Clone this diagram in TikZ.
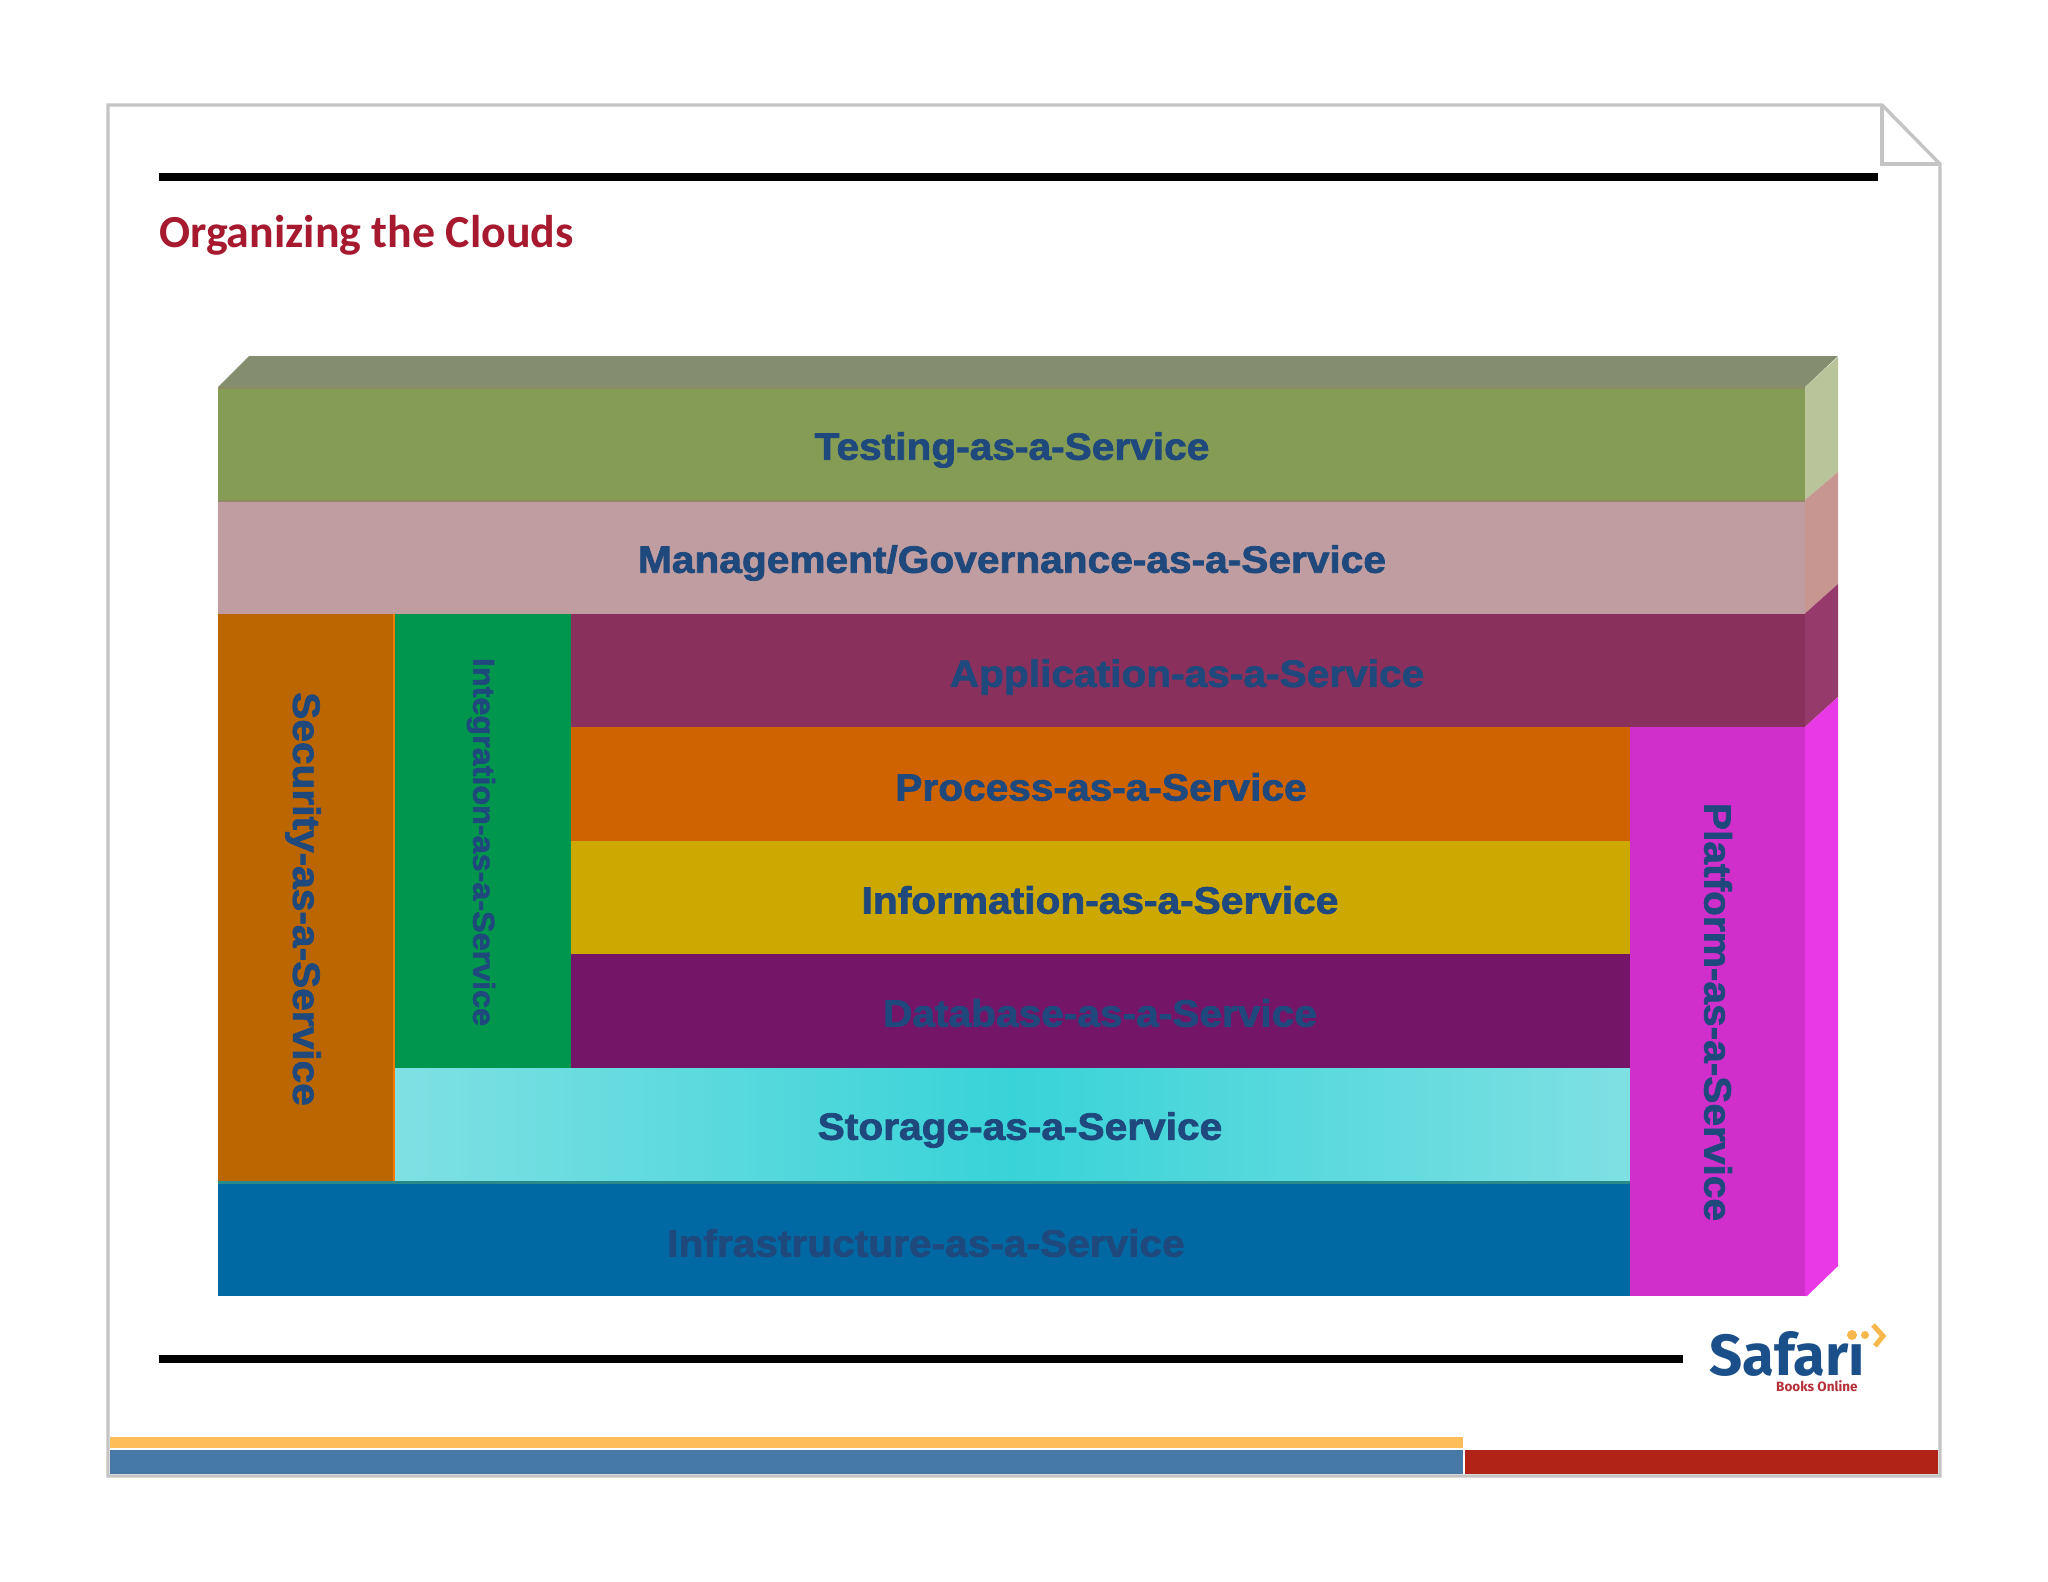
\documentclass[tikz,border=0pt]{standalone}
\usepackage{fontspec}
\setmainfont{Liberation Sans}
\newfontfamily\titlefont{Carlito}
\newfontfamily\logofont{Fira Sans}
\newfontfamily\labfont[BoldFeatures={FakeBold=2,FakeStretch=1.07}]{Liberation Sans}
\definecolor{labc}{HTML}{1F497D}
\definecolor{framec}{HTML}{C4C4C4}
\definecolor{titlec}{HTML}{A6192E}
\definecolor{stc}{HTML}{7FE0E3}
\definecolor{stm}{HTML}{38D3D8}
\definecolor{ctop}{HTML}{858D6F}
\definecolor{ctest}{HTML}{859C55}
\definecolor{ctests}{HTML}{B9C49B}
\definecolor{cmgmt}{HTML}{BF9DA0}
\definecolor{cmgmts}{HTML}{C89691}
\definecolor{capp}{HTML}{89305D}
\definecolor{capps}{HTML}{963A6C}
\definecolor{cproc}{HTML}{CE6300}
\definecolor{cinfo}{HTML}{CDA800}
\definecolor{cdb}{HTML}{751568}
\definecolor{cinfra}{HTML}{0069A3}
\definecolor{csec}{HTML}{BB6600}
\definecolor{cint}{HTML}{00964E}
\definecolor{cplat}{HTML}{D12FCB}
\definecolor{cplats}{HTML}{E938E6}
\definecolor{cteal}{HTML}{2A8A8A}
\definecolor{cyel}{HTML}{FDBD58}
\definecolor{cblue}{HTML}{4679A5}
\definecolor{cred}{HTML}{B22317}
\definecolor{logob}{HTML}{1B4F8A}
\definecolor{logor}{HTML}{B5303A}
\definecolor{logoy}{HTML}{F7B84B}
\definecolor{cedge}{HTML}{8E8A66}
\tikzset{
  lab/.style={text=labc,inner sep=0pt,font=\labfont\bfseries\fontsize{#1}{#1}\selectfont},
  vlab/.style={lab=#1,rotate=-90},
  rulebar/.style={line width=7.5pt,black},
  framel/.style={draw=framec,line width=3.4pt,line join=miter}
}
\begin{document}
\begin{tikzpicture}[x=1pt,y=-1pt]
\useasboundingbox[fill=white] (0,0) rectangle (2048,1582);
% page frame
\draw[framel] (108,105) -- (1882,105) -- (1940,164) -- (1940,1476) -- (108,1476) -- cycle;
\draw[framel] (1882,105) -- (1882,164) -- (1940,164);
\draw[rulebar] (159,177) -- (1878,177);
\draw[rulebar] (159,1359) -- (1683,1359);
\node[anchor=base west,inner sep=0pt,text=titlec,font=\titlefont\bfseries\fontsize{45.9}{46}\selectfont] (title) at (159,247) {Organizing the Clouds};
% block: top and right faces
\fill[ctop] (218,387) -- (249,356) -- (1838,356) -- (1805,387) -- cycle;
\fill[ctests] (1805,387) -- (1838,357) -- (1838,472) -- (1805,500) -- cycle;
\fill[cmgmts] (1805,500) -- (1838,472) -- (1838,584) -- (1805,613.5) -- cycle;
\fill[capps] (1805,613.5) -- (1838,584) -- (1838,697) -- (1805,727) -- cycle;
\fill[cplats] (1805,727) -- (1838,697) -- (1838,1266) -- (1807,1296) -- (1805,1296) -- cycle;
% block: front faces
\fill[ctest] (218,387) rectangle (1805,500);
\fill[cmgmt] (218,500) rectangle (1805,613.5);
\fill[capp] (571,613.5) rectangle (1805,727);
\fill[cproc] (571,727) rectangle (1630,841);
\fill[cinfo] (571,841) rectangle (1630,954);
\fill[cdb] (571,954) rectangle (1630,1068);
\fill[left color=stc,right color=stc,middle color=stm] (395,1068) rectangle (1630,1181);
\fill[cinfra] (218,1181) rectangle (1630,1296);
\fill[csec] (218,613.5) rectangle (394,1181);
\fill[cint] (395,613.5) rectangle (571,1068);
\fill[cplat] (1630,727) rectangle (1805,1296);
\draw[cteal,line width=3pt] (218,1182) -- (1630,1182);
\draw[cedge,line width=2pt] (218,500.5) -- (1805,500.5);
\draw[cedge,line width=2pt] (218,388) -- (1805,388);
\draw[orange!80!csec,line width=2pt] (394,613.5) -- (394,1181);
% labels
\node[lab=38] (testing) at (1012,450) {Testing-as-a-Service};
\node[lab=38] (mgmt) at (1012,563) {Management/Governance-as-a-Service};
\node[lab=38] (app) at (1187,677) {Application-as-a-Service};
\node[lab=38] (proc) at (1101,787) {Process-as-a-Service};
\node[lab=38] (info) at (1100,900) {Information-as-a-Service};
\node[lab=38] (db) at (1100,1013) {Database-as-a-Service};
\node[lab=38] (storage) at (1020,1130) {Storage-as-a-Service};
\node[lab=38] (infra) at (926,1243) {Infrastructure-as-a-Service};
\node[vlab=38] (sec) at (303,899) {Security-as-a-Service};
\node[vlab=30.2] (integ) at (481,842) {Integration-as-a-Service};
\node[vlab=38] (plat) at (1718,1012) {Platform-as-a-Service};
% logo
\node[anchor=base west,inner sep=0pt,text=logob,font=\logofont\bfseries\fontsize{58}{58}\selectfont] (safari) at (1709,1375) {Safarı};
\node[anchor=base west,inner sep=0pt,text=logor,font=\logofont\bfseries\fontsize{13.5}{13.5}\selectfont] (books) at (1776,1391) {Books Online};
\fill[logoy] (1852,1335) circle (5);
\fill[logoy] (1865,1335) circle (4);
\draw[logoy,line width=5pt] (1873,1325) -- (1883,1336) -- (1875,1346);
% footer bars
\fill[cyel] (110,1437) rectangle (1463,1448);
\fill[cblue] (110,1450) rectangle (1463,1474);
\fill[cred] (1465,1450) rectangle (1938,1474);
\end{tikzpicture}
\end{document}
